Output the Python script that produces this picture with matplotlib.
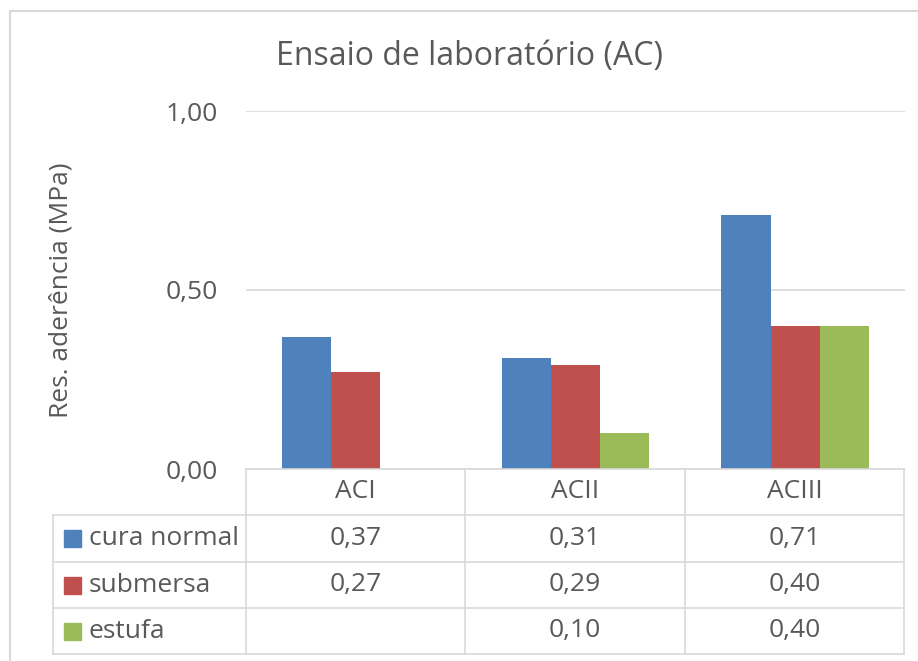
import numpy as np
import matplotlib
matplotlib.use("Agg")
import matplotlib.pyplot as plt
from matplotlib.lines import Line2D
from matplotlib.patches import Rectangle

# data
categories = ["ACI", "ACII", "ACIII"]
series = ["cura normal", "submersa", "estufa"]
cura_normal = [0.37, 0.31, 0.71]
submersa = [0.27, 0.29, 0.40]
estufa = [np.nan, 0.10, 0.40]
yticks = [0.0, 0.5, 1.0]

colors = ["#4f81bd", "#c0504d", "#9bbb59"]
txt = "#595959"
grid = "#d9d9d9"

plt.rcParams["font.family"] = ["Open Sans", "DejaVu Sans"]
fs = 19

W, H = 918, 661
fig = plt.figure(figsize=(W / 100, H / 100), dpi=100)

def fx(x):
    return x / W

def fy(y):
    return 1 - y / H

def hline(y, x0, x1):
    fig.add_artist(Line2D([fx(x0), fx(x1)], [fy(y), fy(y)], color=grid, lw=1.2,
                          transform=fig.transFigure))

def vline(x, y0, y1):
    fig.add_artist(Line2D([fx(x), fx(x)], [fy(y0), fy(y1)], color=grid, lw=1.2,
                          transform=fig.transFigure))

# outer chart frame
fig.add_artist(Rectangle((fx(10), fy(700)), fx(960), fy(11) - fy(700), fill=False,
                         ec=grid, lw=1.5, transform=fig.transFigure))

ax_l, ax_r, ax_t, ax_b = 246, 905, 111, 469
ax = fig.add_axes([fx(ax_l), fy(ax_b), fx(ax_r - ax_l), fy(ax_t) - fy(ax_b)])

values = [cura_normal, submersa, estufa]
x = np.arange(len(categories))
w = 0.224
for i, vals in enumerate(values):
    ax.bar(x + (i - 1) * w, vals, width=w, color=colors[i], zorder=3)

ax.set_xlim(-0.5, len(categories) - 0.5)
ax.set_ylim(0, 1)
ax.set_yticks(yticks)
ax.set_yticklabels([f"{v:.2f}".replace(".", ",") for v in yticks], color=txt, fontsize=fs)
ax.tick_params(axis="y", length=0, pad=20)
ax.set_xticks([])
ax.grid(axis="y", color=grid, lw=1.2, zorder=0)
for s in ax.spines.values():
    s.set_visible(False)

fig.text(fx(470), fy(57), "Ensaio de laboratório (AC)", ha="center", va="center",
         fontsize=23, color=txt)
fig.text(fx(61), fy(290), "Res. aderência (MPa)", ha="center", va="center",
         rotation=90, fontsize=fs, color=txt)

# data table below the plot
col_x = [246, 465, 685, 904]
row_y = [469, 515, 562, 608, 654]
label_l = 53
hline(row_y[0], col_x[0], col_x[-1])
for y in row_y[1:]:
    hline(y, label_l, col_x[-1])
vline(label_l, row_y[1], row_y[-1])
for cx in col_x:
    vline(cx, row_y[0], row_y[-1])

for j, cat in enumerate(categories):
    cx = (col_x[j] + col_x[j + 1]) / 2
    fig.text(fx(cx), fy((row_y[0] + row_y[1]) / 2), cat, ha="center", va="center",
             fontsize=fs, color=txt)
    for i, vals in enumerate(values):
        v = vals[j]
        if not np.isnan(v):
            cy = (row_y[i + 1] + row_y[i + 2]) / 2
            fig.text(fx(cx), fy(cy), f"{v:.2f}".replace(".", ","), ha="center",
                     va="center", fontsize=fs, color=txt)

for i, name in enumerate(series):
    cy = (row_y[i + 1] + row_y[i + 2]) / 2
    fig.add_artist(Rectangle((fx(64), fy(cy + 8.5)), fx(17), fy(cy - 8.5) - fy(cy + 8.5),
                             color=colors[i], transform=fig.transFigure))
    fig.text(fx(89), fy(cy), name, ha="left", va="center", fontsize=fs, color=txt)

fig.savefig("out.png", dpi=100)
